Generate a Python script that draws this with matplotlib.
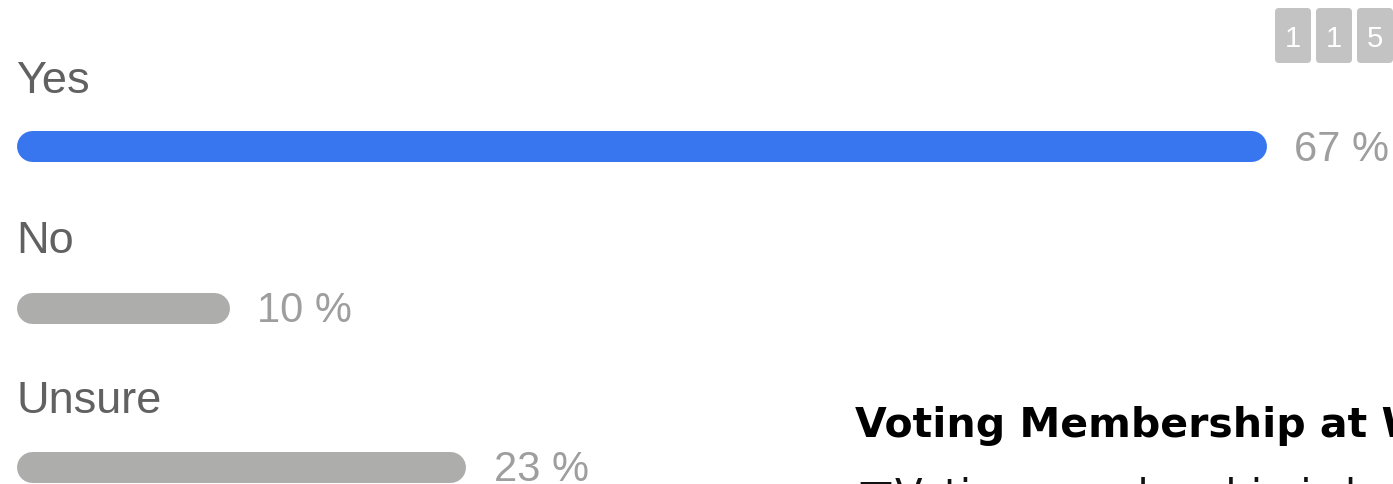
import matplotlib.pyplot as plt
from matplotlib.patches import FancyBboxPatch
from matplotlib.transforms import offset_copy

options = ["Yes", "No", "Unsure"]
percents = [67, 10, 23]
bar_colors = ["#3876ef", "#adadab", "#adadab"]
vote_digits = ["1", "1", "5"]

W, H = 1393, 484
DPI = 100
plt.rcParams["font.family"] = ["Liberation Sans", "DejaVu Sans"]

fig = plt.figure(figsize=(W / DPI, H / DPI), dpi=DPI)

# bars live in percent units, rows in pixels from the top
px_per_pct = 18.2
x_origin = 31.5
ax = fig.add_axes([0, 0, 1, 1])
ax.set_xlim(-x_origin / px_per_pct, (W - x_origin) / px_per_pct)
ax.set_ylim(H, 0)
ax.axis("off")

# overlay in plain pixel coords for the surrounding text
deco = fig.add_axes([0, 0, 1, 1], zorder=3)
deco.set_xlim(0, W)
deco.set_ylim(H, 0)
deco.axis("off")

bar_rows = [145.5, 307.5, 466.5]
label_baselines = [93, 253, 413]
pct_baselines = [161, 322, 481]
bar_px = 31

label_tr = offset_copy(ax.transData, fig=fig, x=43.5, y=0, units="dots")
for name, pct, color, row, lb, pb in zip(options, percents, bar_colors,
                                         bar_rows, label_baselines, pct_baselines):
    deco.text(16, lb, name, fontsize=32.5, color="#616161", va="baseline", ha="left")
    ax.plot([0, pct], [row, row], color=color, linewidth=bar_px * 72 / DPI,
            solid_capstyle="round")
    ax.text(pct, pb, f"{pct} %", transform=label_tr, fontsize=30,
            color="#9e9e9e", va="baseline", ha="left")

# vote counter in the corner
for i, d in enumerate(vote_digits):
    x0 = 1275 + i * 41
    box = FancyBboxPatch((x0 + 3, 11), 30, 49,
                         boxstyle="round,pad=3,rounding_size=4",
                         facecolor="#c3c3c3", edgecolor="none")
    deco.add_patch(box)
    deco.text(x0 + 18, 47, d, fontsize=21, color="white",
              ha="center", va="baseline")

deco.text(855, 437, "Voting Membership at W", fontsize=29.5, fontweight="bold",
          family="DejaVu Sans", color="#000000", va="baseline", ha="left")
deco.text(857, 508, "\u25a1Voting membership is based on", fontsize=29,
          family="DejaVu Sans", color="#111111", va="baseline", ha="left")

fig.savefig("out.png", dpi=DPI)
